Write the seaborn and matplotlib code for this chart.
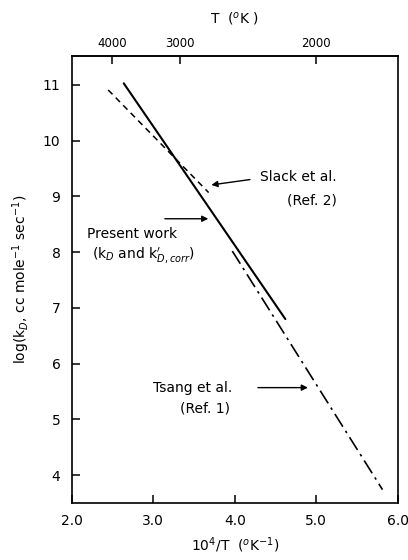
import matplotlib
matplotlib.use("Agg")
import matplotlib.pyplot as plt
import pandas as pd
import seaborn as sns

# Line endpoints: x = 10^4/T (1/K), y = log k_D
present_x = [2.64, 4.62]
present_y = [11.03, 6.80]
slack_x = [2.45, 3.68]
slack_y = [10.91, 9.07]
tsang_x = [3.97, 5.81]
tsang_y = [8.02, 3.74]

x_ticks = [2.0, 3.0, 4.0, 5.0, 6.0]
x_ticklabels = ["2.0", "3.0", "4.0", "5.0", "6.0"]
y_ticks = [4, 5, 6, 7, 8, 9, 10, 11]
t_ticks = [4000, 3000, 2000]

sns.set_theme(style="ticks")
plt.rcParams["font.family"] = ["DejaVu Sans"]
plt.rcParams.update({"text.color": "black", "axes.labelcolor": "black",
                     "xtick.color": "black", "ytick.color": "black"})

fig = plt.figure(figsize=(4.08, 5.60), dpi=100)
ax = fig.add_axes([71.5 / 408, 1 - 503 / 560, (398 - 71.5) / 408, (503 - 56) / 560])

df = pd.concat([
    pd.DataFrame({"x": present_x, "y": present_y, "series": "present"}),
    pd.DataFrame({"x": slack_x, "y": slack_y, "series": "slack"}),
    pd.DataFrame({"x": tsang_x, "y": tsang_y, "series": "tsang"}),
])

styles = {"present": "-", "slack": (0, (4, 3)), "tsang": (0, (9, 3, 1.5, 3))}
widths = {"present": 1.5, "slack": 1.1, "tsang": 1.2}
for name, sub in df.groupby("series"):
    sns.lineplot(data=sub, x="x", y="y", ax=ax, color="black",
                 linestyle=styles[name], linewidth=widths[name], legend=False)

ax.set_xlim(2.0, 6.0)
ax.set_ylim(3.5, 11.52)
ax.set_xticks(x_ticks)
ax.set_xticklabels(x_ticklabels)
ax.set_yticks(y_ticks)
ax.tick_params(axis="both", direction="in", length=6, width=1.1,
               labelsize=10, colors="black", pad=8)
for s in ax.spines.values():
    s.set_linewidth(1.2)
    s.set_color("black")

ax.set_xlabel(r"10$^4$/T  ($^o$K$^{-1}$)", fontsize=10, labelpad=5)
ax.set_ylabel(r"log(k$_D$, cc mole$^{-1}$ sec$^{-1}$)", fontsize=10, labelpad=8)

# Temperature scale along the top
top = ax.secondary_xaxis("top", functions=(lambda v: 1e4 / v, lambda v: 1e4 / v))
top.set_xticks(t_ticks)
top.set_xticklabels([str(t) for t in t_ticks])
top.tick_params(direction="in", length=6, width=1.1, labelsize=8.5, pad=4, colors="black")
top.set_xlabel(r"T  ($^o$K )", fontsize=10, labelpad=10)

arrow = dict(arrowstyle="-|>", color="black", lw=1.0, mutation_scale=9)
ax.annotate("", xy=(3.68, 9.20), xytext=(4.22, 9.31), arrowprops=arrow)
ax.text(4.31, 9.35, "Slack et al.", fontsize=10, va="center", ha="left")
ax.text(4.64, 8.93, "(Ref. 2)", fontsize=10, va="center", ha="left")

ax.annotate("", xy=(3.71, 8.60), xytext=(3.11, 8.60), arrowprops=arrow)
ax.text(2.19, 8.33, "Present work", fontsize=10, va="center", ha="left")
ax.text(2.25, 7.94, r"(k$_D$ and k$^{\prime}_{D,corr}$)", fontsize=10, va="center", ha="left")

ax.annotate("", xy=(4.93, 5.57), xytext=(4.25, 5.57), arrowprops=arrow)
ax.text(3.0, 5.57, "Tsang et al.", fontsize=10, va="center", ha="left")
ax.text(3.33, 5.19, "(Ref. 1)", fontsize=10, va="center", ha="left")

fig.savefig("out.png", dpi=100, facecolor="white")
